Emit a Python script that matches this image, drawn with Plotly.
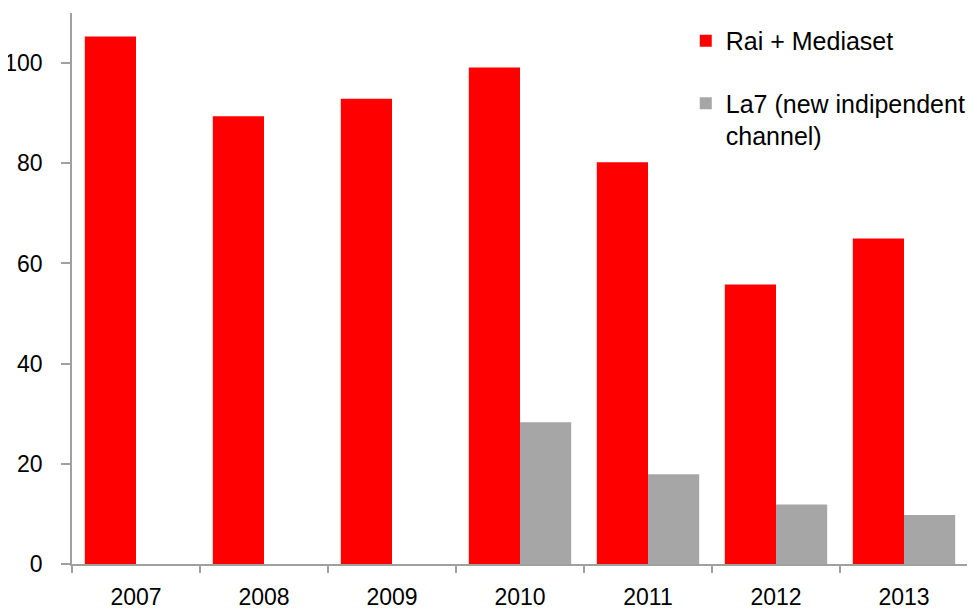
import plotly.graph_objects as go

years = ["2007", "2008", "2009", "2010", "2011", "2012", "2013"]
rai_mediaset = [105.3, 89.4, 92.9, 99.1, 80.2, 55.8, 65.0]
la7 = [None, None, None, 28.3, 17.9, 11.9, 9.8]
y_ticks = [0, 20, 40, 60, 80, 100]

FONT = "Liberation Sans"

fig = go.Figure()
fig.add_trace(go.Bar(x=years, y=rai_mediaset, name="Rai + Mediaset",
                     marker=dict(color="#FF0000", line=dict(width=0)),
                     legendgroup="a"))
fig.add_trace(go.Bar(x=years, y=la7, name="La7 (new indipendent<br>channel)",
                     marker=dict(color="#A6A6A6", line=dict(width=0)),
                     legendgroup="b"))

fig.update_layout(
    width=975, height=608,
    margin=dict(l=64, r=15, t=5, b=52),
    paper_bgcolor="white", plot_bgcolor="white",
    barmode="group", bargap=0.2, bargroupgap=0,
    font=dict(family=FONT, size=23, color="black"),
    showlegend=True,
    legend=dict(x=0.685, y=0.991, xanchor="left", yanchor="top",
                font=dict(family=FONT, size=25, color="black"),
                bgcolor="rgba(0,0,0,0)", tracegroupgap=27,
                traceorder="grouped", valign="top"),
    xaxis=dict(type="category", showline=True, linecolor="#A0A0A0", linewidth=1.5,
               ticks="outside", tickson="boundaries", ticklen=7, tickcolor="#A0A0A0",
               tickwidth=1.5, showgrid=False, zeroline=False, automargin=False,
               ticklabelstandoff=12),
    yaxis=dict(range=[0, 110], tickvals=y_ticks, showline=True, linecolor="#A0A0A0",
               linewidth=1.5, ticks="outside", ticklen=9, tickcolor="#A0A0A0",
               tickwidth=1.5, showgrid=False, zeroline=False, automargin=False,
               ticklabelstandoff=14),
)

fig.write_html("out.html")
